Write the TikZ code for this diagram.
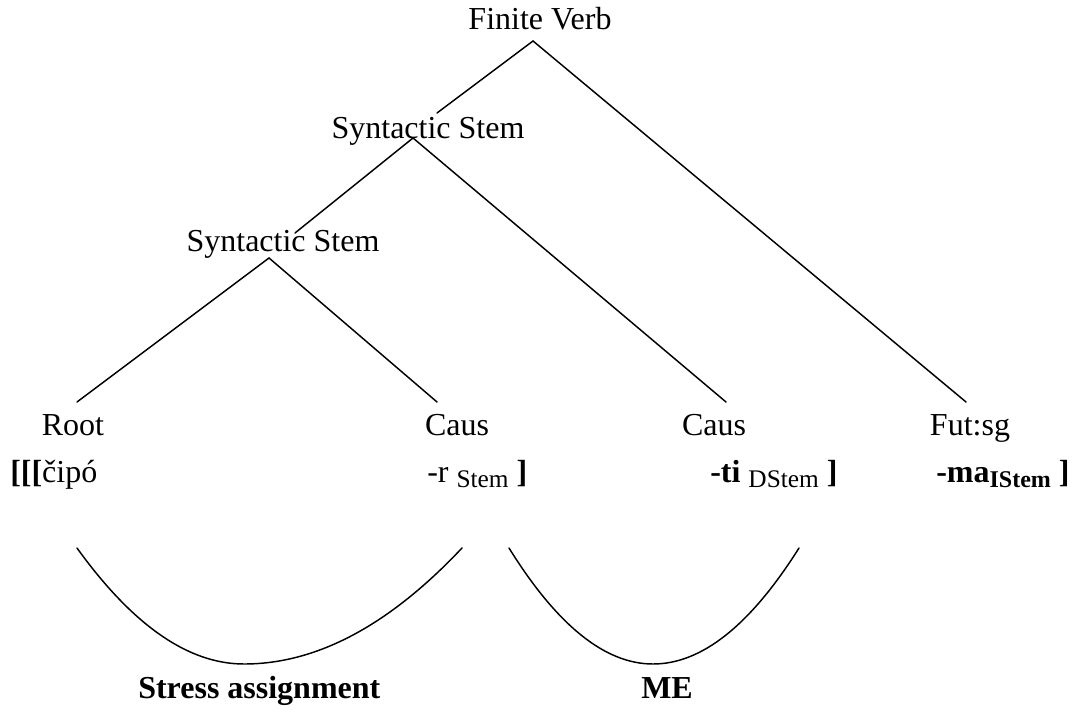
\documentclass[tikz,border=0pt]{standalone}
\usepackage{fontspec}
\setmainfont{Liberation Serif}
\newcommand\lowsub[1]{\raisebox{-0.18em}{\fontsize{19}{20}\selectfont #1}}
\begin{document}
\begin{tikzpicture}[x=0.75pt,y=-0.75pt,
  lbl/.style={inner sep=0pt, anchor=base, font=\fontsize{24}{28}\selectfont},
  lblw/.style={lbl, anchor=base west},
  branch/.style={line width=1.1pt, line cap=round},
  arcline/.style={line width=1.1pt, line cap=round}]
\useasboundingbox (0,0) rectangle (1073,713);
% tree labels
\node[lbl] (fv) at (540,30) {Finite Verb};
\node[lbl] (ss1) at (428,139) {Syntactic Stem};
\node[lbl] (ss2) at (283,251) {Syntactic Stem};
\node[lbl] (root) at (73,435) {Root};
\node[lbl] (caus1) at (457,435) {Caus};
\node[lbl] (caus2) at (714,435) {Caus};
\node[lbl] (fut) at (970,435) {Fut:sg};
% morphemes
\node[lblw] (m1) at (10,482) {\textbf{[[[}čipó};
\node[lblw] (m2) at (427,482) {-r \lowsub{Stem} \textbf{]}};
\node[lblw] (m3) at (710,482) {\textbf{-ti} \lowsub{DStem} \textbf{]}};
\node[lblw] (m4) at (936,482) {\textbf{-ma}\lowsub{\fontsize{18}{20}\selectfont\bfseries IStem} \textbf{]}};
% branch points
\coordinate (fvA) at (533,41);
\coordinate (fvL) at (437,113);
\coordinate (fvR) at (966,402);
\coordinate (ss1A) at (413,138);
\coordinate (ss1L) at (295,233);
\coordinate (ss1R) at (726,402);
\coordinate (ss2A) at (269,258);
\coordinate (ss2L) at (77,402);
\coordinate (ss2R) at (437,402);
\draw[branch] (fvL) -- (fvA) -- (fvR);
\draw[branch] (ss1L) -- (ss1A) -- (ss1R);
\draw[branch] (ss2L) -- (ss2A) -- (ss2R);
% domain arcs
\coordinate (c1s) at (77,548);
\coordinate (c1m) at (244,664);
\coordinate (c1e) at (462,548);
\coordinate (c2s) at (509,548);
\coordinate (c2m) at (653,664);
\coordinate (c2e) at (799,548);
\draw[arcline] (c1s) .. controls (132.7,625.3) and (188.3,664) .. (c1m)
  .. controls (316.7,664) and (389.3,625.3) .. (c1e);
\draw[arcline] (c2s) .. controls (557,625.3) and (605,664) .. (c2m)
  .. controls (701.7,664) and (750.3,625.3) .. (c2e);
\node[lblw, font=\fontsize{24}{28}\selectfont\bfseries] (sa) at (138,698) {Stress assignment};
\node[lblw, font=\fontsize{24}{28}\selectfont\bfseries] (me) at (641,698) {ME};
\end{tikzpicture}
\end{document}
